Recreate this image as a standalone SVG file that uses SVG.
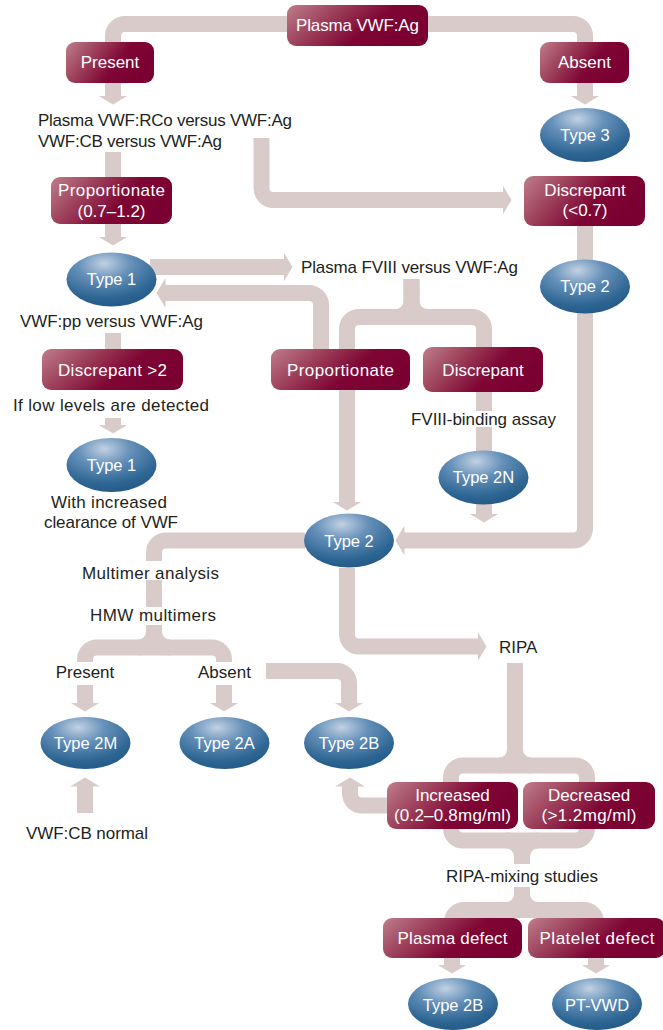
<svg xmlns="http://www.w3.org/2000/svg" width="663" height="1030" viewBox="0 0 663 1030">
<style>
text{font-family:"Liberation Sans",Arial,sans-serif;font-size:17px;text-anchor:middle}
.lbl{fill:#231f20}
.st{text-anchor:start}
.wt{fill:#ffffff}
.ov{font-size:16.5px}
.conn{fill:none;stroke:#d9cbca;stroke-width:16}
.arr{marker-end:url(#ah)}
.box{fill:url(#gBox)}
.ell{fill:url(#gEll)}
</style>
<defs>
<linearGradient id="gBox" x1="0" y1="0" x2="1" y2="0.35">
<stop offset="0" stop-color="#bf7e8b"/>
<stop offset="0.35" stop-color="#9d405b"/>
<stop offset="0.68" stop-color="#7f0634"/>
<stop offset="1" stop-color="#790030"/>
</linearGradient>
<radialGradient id="gEll" cx="0.42" cy="0.22" r="0.85" fx="0.42" fy="0.2">
<stop offset="0" stop-color="#c2d1e3"/>
<stop offset="0.35" stop-color="#6590b9"/>
<stop offset="0.75" stop-color="#2d6593"/>
<stop offset="1" stop-color="#225683"/>
</radialGradient>
<marker id="ah" markerUnits="userSpaceOnUse" markerWidth="10" markerHeight="30" refX="0.5" refY="15" orient="auto" viewBox="0 0 10 30">
<path d="M0,0 L9,15 L0,30 Z" fill="#d9cbca"/>
</marker>
</defs>

<g id="connectors">
<path class="conn" d="M113,44 V36 A12,12 0 0 1 125,24 H573 A12,12 0 0 1 585,36 V44"/>
<path class="conn arr" d="M113,83 V96"/>
<path class="conn arr" d="M585,83 V96"/>
<path class="conn" d="M113,152 V178"/>
<path class="conn arr" d="M261.5,138 V188 A12,12 0 0 0 273.5,200 H503"/>
<path class="conn arr" d="M113,224 V237"/>
<path class="conn arr" d="M150,267 H284"/>
<path class="conn" d="M585,226 V262"/>
<path class="conn arr" d="M585,312 V528.5 A12,12 0 0 1 573,540.5 H404"/>
<path class="conn arr" d="M411.5,279 V301 A16,16 0 0 1 395.5,317 H359 A12,12 0 0 0 347,329 V502"/>
<path class="conn" d="M411.5,279 V301 A16,16 0 0 0 427.5,317 H472 A12,12 0 0 1 484,329 V348"/>
<path class="conn" d="M395.5,317 H427.5"/>
<path class="conn arr" d="M321,350 V305 A12,12 0 0 0 309,293 H165"/>
<path class="conn" d="M113,333 V350"/>
<path class="conn arr" d="M113,418 V425"/>
<path class="conn" d="M484,392 V411"/>
<path class="conn" d="M484,427 V452"/>
<path class="conn arr" d="M484,503 V514"/>
<path class="conn" d="M305,540.5 H166 A12,12 0 0 0 154,552.5 V561"/>
<path class="conn" d="M154,580 V607"/>
<path class="conn" d="M154,625 V631.5 A16,16 0 0 1 138,647.5 H97 A12,12 0 0 0 85,659.5 V662"/>
<path class="conn" d="M154,625 V631.5 A16,16 0 0 0 170,647.5 H212 A12,12 0 0 1 224,659.5 V662"/>
<path class="conn" d="M138,647.5 H170"/>
<path class="conn arr" d="M85,685 V703"/>
<path class="conn arr" d="M224,685 V703"/>
<path class="conn arr" d="M266,671 H337 A12,12 0 0 1 349,683 V703"/>
<path class="conn arr" d="M347,568 V634.5 A12,12 0 0 0 359,646.5 H478"/>
<path class="conn" d="M515,663 V749.5 A16,16 0 0 1 499,765.5"/>
<path class="conn" d="M515,663 V749.5 A16,16 0 0 0 531,765.5"/>
<rect class="conn" x="451" y="765.5" width="136" height="75" rx="12" ry="12"/>
<path class="conn" d="M522,864 V856.5 A16,16 0 0 0 506,840.5"/>
<path class="conn" d="M522,864 V856.5 A16,16 0 0 1 538,840.5"/>
<path class="conn" d="M522,887 V894 A16,16 0 0 1 506,910 H464 A12,12 0 0 0 452,922 V925"/>
<path class="conn" d="M522,887 V894 A16,16 0 0 0 538,910 H584 A12,12 0 0 1 596,922 V925"/>
<path class="conn" d="M506,910 H538"/>
<path class="conn arr" d="M452,958 V965"/>
<path class="conn arr" d="M596,958 V965"/>
<path class="conn arr" d="M388,805.5 H362 A12,12 0 0 1 350,793.5 V786"/>
<path class="conn arr" d="M85,813 V786"/>
</g>

<g id="n-plasma-vwf-ag"><rect class="box" x="287" y="5" width="141" height="41" rx="9"/><text class="wt" x="357.5" y="30.5" textLength="123">Plasma VWF:Ag</text></g>
<g id="n-present-top"><rect class="box" x="66" y="42" width="88" height="41" rx="9"/><text class="wt" x="110" y="68">Present</text></g>
<g id="n-absent-top"><rect class="box" x="540" y="42" width="89" height="41" rx="9"/><text class="wt" x="584.5" y="68">Absent</text></g>
<g id="n-rco-text"><text class="lbl st" x="38" y="126" textLength="254">Plasma VWF:RCo versus VWF:Ag</text><text class="lbl st" x="38" y="147" textLength="184">VWF:CB versus VWF:Ag</text></g>
<g id="n-type3"><ellipse class="ell" cx="585" cy="135" rx="45" ry="27"/><text class="wt ov" x="585" y="141">Type 3</text></g>
<g id="n-proportionate1"><rect class="box" x="51" y="177" width="121" height="47" rx="9"/><text class="wt" x="111.5" y="196" textLength="107">Proportionate</text><text class="wt" x="111.5" y="217">(0.7–1.2)</text></g>
<g id="n-discrepant07"><rect class="box" x="524" y="176" width="121" height="50" rx="9"/><text class="wt" x="585" y="196">Discrepant</text><text class="wt" x="585" y="216">(&lt;0.7)</text></g>
<g id="n-type1"><ellipse class="ell" cx="111.5" cy="279.5" rx="45" ry="27"/><text class="wt ov" x="111.5" y="285">Type 1</text></g>
<g id="n-fviii-text"><text class="lbl st" x="301" y="273" textLength="217">Plasma FVIII versus VWF:Ag</text></g>
<g id="n-type2-right"><ellipse class="ell" cx="585" cy="286.5" rx="45" ry="27"/><text class="wt ov" x="585" y="292">Type 2</text></g>
<g id="n-vwfpp-text"><text class="lbl" x="111.5" y="327" textLength="183">VWF:pp versus VWF:Ag</text></g>
<g id="n-discrepant2"><rect class="box" x="42" y="349" width="141" height="41" rx="9"/><text class="wt" x="112.5" y="376" textLength="109">Discrepant &gt;2</text></g>
<g id="n-proportionate2"><rect class="box" x="271" y="349" width="139" height="41" rx="9"/><text class="wt" x="340.5" y="376" textLength="107">Proportionate</text></g>
<g id="n-discrepant"><rect class="box" x="423" y="347" width="120" height="45" rx="9"/><text class="wt" x="483" y="376">Discrepant</text></g>
<g id="n-lowlevels-text"><text class="lbl" x="111" y="411" textLength="196">If low levels are detected</text></g>
<g id="n-fviii-binding-text"><text class="lbl" x="483.5" y="425" textLength="145">FVIII-binding assay</text></g>
<g id="n-type1-lower"><ellipse class="ell" cx="111.5" cy="465" rx="45" ry="27"/><text class="wt ov" x="111.5" y="471">Type 1</text></g>
<g id="n-clearance-text"><text class="lbl" x="109" y="508" textLength="116">With increased</text><text class="lbl" x="111" y="528" textLength="134">clearance of VWF</text></g>
<g id="n-type2n"><ellipse class="ell" cx="483.5" cy="477.5" rx="45" ry="27"/><text class="wt ov" x="483.5" y="483">Type 2N</text></g>
<g id="n-type2-center"><ellipse class="ell" cx="349" cy="540.5" rx="45" ry="27"/><text class="wt ov" x="349" y="547">Type 2</text></g>
<g id="n-multimer-text"><text class="lbl" x="150.5" y="579" textLength="137">Multimer analysis</text></g>
<g id="n-hmw-text"><text class="lbl" x="153" y="621" textLength="126">HMW multimers</text></g>
<g id="n-ripa-text"><text class="lbl st" x="499" y="653">RIPA</text></g>
<g id="n-present-hmw"><text class="lbl" x="85" y="678">Present</text></g>
<g id="n-absent-hmw"><text class="lbl" x="224.5" y="678">Absent</text></g>
<g id="n-type2m"><ellipse class="ell" cx="85.5" cy="743" rx="45" ry="26"/><text class="wt ov" x="85.5" y="749">Type 2M</text></g>
<g id="n-type2a"><ellipse class="ell" cx="224.5" cy="743" rx="45" ry="26"/><text class="wt ov" x="224.5" y="749">Type 2A</text></g>
<g id="n-type2b"><ellipse class="ell" cx="349" cy="743" rx="45" ry="26"/><text class="wt ov" x="349" y="749">Type 2B</text></g>
<g id="n-increased"><rect class="box" x="387" y="782" width="131" height="47" rx="9"/><text class="wt" x="452.5" y="801">Increased</text><text class="wt" x="452.5" y="821" textLength="117">(0.2–0.8mg/ml)</text></g>
<g id="n-decreased"><rect class="box" x="523" y="782" width="132" height="47" rx="9"/><text class="wt" x="589" y="801">Decreased</text><text class="wt" x="589" y="821" textLength="95">(&gt;1.2mg/ml)</text></g>
<g id="n-vwfcb-normal-text"><text class="lbl" x="87" y="839" textLength="122">VWF:CB normal</text></g>
<g id="n-ripa-mixing-text"><text class="lbl" x="522" y="882" textLength="152">RIPA-mixing studies</text></g>
<g id="n-plasma-defect"><rect class="box" x="383" y="918" width="139" height="40" rx="9"/><text class="wt" x="452.5" y="944" textLength="110">Plasma defect</text></g>
<g id="n-platelet-defect"><rect class="box" x="528" y="918" width="137" height="40" rx="9"/><text class="wt" x="597" y="944" textLength="115">Platelet defect</text></g>
<g id="n-type2b-bottom"><ellipse class="ell" cx="453" cy="1004" rx="45" ry="26"/><text class="wt ov" x="453" y="1011">Type 2B</text></g>
<g id="n-pt-vwd"><ellipse class="ell" cx="597" cy="1004" rx="45" ry="26"/><text class="wt ov" x="597" y="1011">PT-VWD</text></g>
</svg>
